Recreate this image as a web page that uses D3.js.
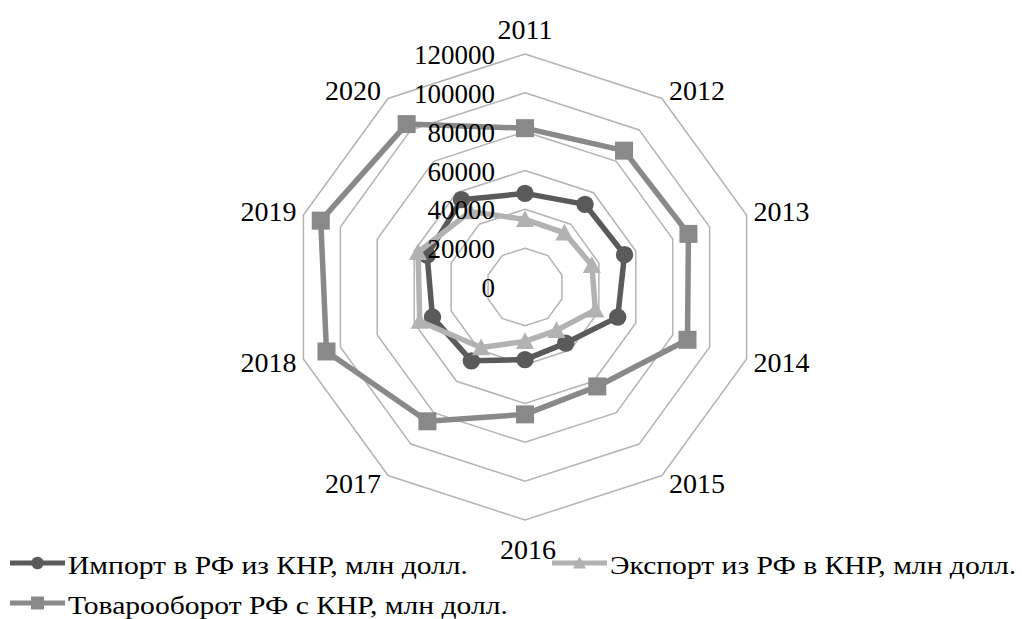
<!DOCTYPE html>
<html>
<head>
<meta charset="utf-8">
<script src="https://cdn.jsdelivr.net/npm/d3@7"></script>
<style>
  body { margin: 0; background: #fff; }
  svg { display: block; }
</style>
</head>
<body>
<svg id="chart" width="1022" height="619"></svg>
<script>
const categories = ["2011","2012","2013","2014","2015","2016","2017","2018","2019","2020"];
const importValues = [48200, 52600, 53900, 50200, 35700, 37400, 47000, 50100, 53000, 55600];
const exportValues = [34800, 34500, 36200, 38100, 27600, 28000, 38500, 57000, 57900, 48000];
const turnoverValues = [81800, 86800, 88500, 88000, 63300, 65600, 85500, 107500, 110600, 103700];
const tickValues = [0, 20000, 40000, 60000, 80000, 100000, 120000];
const seriesNames = ["Импорт в РФ из КНР, млн долл.", "Экспорт из РФ в КНР, млн долл.", "Товарооборот РФ с КНР, млн долл."];

const FONT = "'Liberation Serif', 'Times New Roman', serif";

const series = [
  { name: seriesNames[2], values: turnoverValues, color: "#898989", marker: "square" },
  { name: seriesNames[0], values: importValues, color: "#5a5a5a", marker: "circle" },
  { name: seriesNames[1], values: exportValues, color: "#b2b2b2", marker: "triangle" }
];

const svg = d3.select("#chart");
const cx = 525, cy = 287, R = 233;

const r = d3.scaleLinear().domain([0, 120000]).range([0, R]);
const angle = d3.scaleBand().domain(categories).range([0, 2 * Math.PI]);
const ang = c => angle(c);
const px = (c, v) => cx + r(v) * Math.sin(ang(c));
const py = (c, v) => cy - r(v) * Math.cos(ang(c));

// grid decagons
const g = svg.append("g");
tickValues.filter(t => t > 0).forEach(t => {
  const pts = categories.map(c => [px(c, t), py(c, t)]);
  g.append("polygon")
    .attr("points", pts.map(p => p.join(",")).join(" "))
    .attr("fill", "none")
    .attr("stroke", "#b4b4b4")
    .attr("stroke-width", 1.5);
});

// category labels
categories.forEach((c, i) => {
  const a = ang(c);
  const vx = px(c, 120000), vy = py(c, 120000);
  const s = Math.sin(a), co = Math.cos(a);
  let x, y, anchor;
  if (Math.abs(s) < 0.01) {
    x = vx + (co > 0 ? 0 : 3);
    y = co > 0 ? vy - 25 : vy + 29;
    anchor = "middle";
  } else {
    x = vx + (s > 0 ? 7 : -7);
    y = vy - co * 10;
    anchor = s > 0 ? "start" : "end";
  }
  svg.append("text")
    .attr("x", x).attr("y", y)
    .attr("text-anchor", anchor)
    .attr("dominant-baseline", "central")
    .attr("font-family", FONT)
    .attr("font-size", 28)
    .text(c);
});

// series
const line = d3.line();
function drawMarkers(parent, pts, s, k) {
  pts.forEach(p => {
    if (s.marker === "circle") {
      parent.append("circle").attr("cx", p[0]).attr("cy", p[1]).attr("r", 8.7 * k).attr("fill", s.color);
    } else if (s.marker === "square") {
      const h = 9 * k;
      parent.append("rect").attr("x", p[0] - h).attr("y", p[1] - h).attr("width", 2 * h).attr("height", 2 * h).attr("fill", s.color);
    } else {
      const h = 9 * k;
      parent.append("path")
        .attr("d", `M${p[0]},${p[1] - h}L${p[0] + h},${p[1] + h * 0.85}L${p[0] - h},${p[1] + h * 0.85}Z`)
        .attr("fill", s.color);
    }
  });
}
series.forEach(s => {
  const pts = categories.map((c, i) => [px(c, s.values[i]), py(c, s.values[i])]);
  svg.append("path")
    .attr("d", line(pts) + "Z")
    .attr("fill", "none")
    .attr("stroke", s.color)
    .attr("stroke-width", 5.5)
    .attr("stroke-linejoin", "round");
  drawMarkers(svg, pts, s, 1);
});

// radial tick labels
tickValues.forEach(t => {
  svg.append("text")
    .attr("x", 495)
    .attr("y", cy - r(t) + 1)
    .attr("text-anchor", "end")
    .attr("dominant-baseline", "central")
    .attr("font-family", FONT)
    .attr("font-size", 27)
    .text(t);
});

// legend
const legendItems = [
  { s: series[1], x: 10, y: 563 },
  { s: series[2], x: 552, y: 563 },
  { s: series[0], x: 10, y: 603 }
];
const texts = [];
legendItems.forEach(li => {
  const lg = svg.append("g");
  lg.append("line").attr("x1", li.x).attr("x2", li.x + 55).attr("y1", li.y).attr("y2", li.y)
    .attr("stroke", li.s.color).attr("stroke-width", 5);
  drawMarkers(lg, [[li.x + 27.5, li.y]], li.s, 0.72);
  const t = lg.append("text").attr("x", li.x + 58).attr("y", li.y + 10.5)
    .attr("font-family", FONT)
    .attr("font-size", 25)
    .text(li.s.name);
  texts.push(t);
});
// stretch horizontally to match the reference's wide legend lettering
const ratio = 400 / texts[0].node().getComputedTextLength();
texts.forEach(t => {
  const w = t.node().getComputedTextLength();
  t.attr("textLength", w * ratio).attr("lengthAdjust", "spacingAndGlyphs");
});
</script>
</body>
</html>
